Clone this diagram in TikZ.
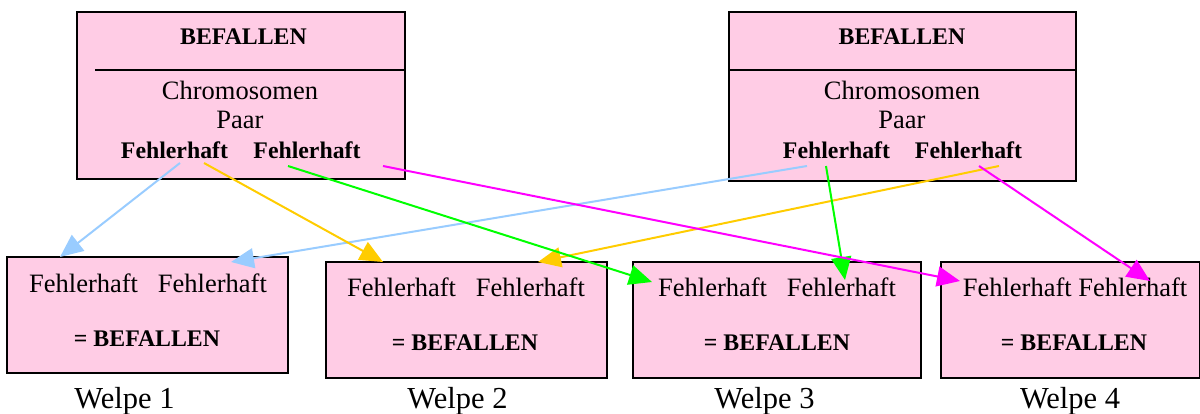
\documentclass[tikz,border=0pt]{standalone}
\usepackage{fontspec}
\setmainfont{Liberation Serif}
\usetikzlibrary{arrows.meta}
\definecolor{pinkfill}{RGB}{255,204,229}
\definecolor{skyblue}{RGB}{153,204,255}
\definecolor{gold}{RGB}{255,204,0}
\definecolor{lime}{RGB}{0,255,0}
\definecolor{magent}{RGB}{255,0,255}
\tikzset{
  parentbox/.style={draw=black,line width=2pt,fill=pinkfill},
  pupbox/.style={draw=black,line width=2pt,fill=pinkfill},
  regtxt/.style={anchor=base,inner sep=0pt,font=\fontsize{26.5}{30}\selectfont},
  boldtxt/.style={anchor=base,inner sep=0pt,font=\fontsize{23.8}{28}\selectfont\bfseries},
  pupname/.style={anchor=base,inner sep=0pt,font=\fontsize{30.5}{34}\selectfont},
  gene/.style={line width=2pt,-{Triangle[length=23pt,width=20pt]}},
}
\begin{document}
\begin{tikzpicture}[x=1pt,y=-1pt]
\useasboundingbox (0,0) rectangle (1200,414);

% parent boxes
\node[parentbox,minimum width=328pt,minimum height=167pt,inner sep=0pt] (pA) at (241,95.5) {};
\draw[line width=2pt] (95,70) -- (pA.east |- 0,70);
\node[boldtxt] (pAtitle) at (243.5,45) {BEFALLEN};
\node[regtxt] (pAchr) at (240,100) {Chromosomen};
\node[regtxt] (pApaar) at (240,129) {Paar};
\node[boldtxt] (pAw1) at (174.5,159) {Fehlerhaft};
\node[boldtxt] (pAw2) at (307,159) {Fehlerhaft};

\node[parentbox,minimum width=347pt,minimum height=169pt,inner sep=0pt] (pB) at (902.5,96.5) {};
\draw[line width=2pt] (pB.west |- 0,70) -- (pB.east |- 0,70);
\node[boldtxt] (pBtitle) at (902,45) {BEFALLEN};
\node[regtxt] (pBchr) at (902,100) {Chromosomen};
\node[regtxt] (pBpaar) at (902,129) {Paar};
\node[boldtxt] (pBw1) at (836.5,158.5) {Fehlerhaft};
\node[boldtxt] (pBw2) at (968.5,158.5) {Fehlerhaft};

% puppy boxes
\node[pupbox,minimum width=281pt,minimum height=116pt,inner sep=0pt] (w1) at (147.5,315) {};
\node[pupbox,minimum width=281pt,minimum height=116pt,inner sep=0pt] (w2) at (466.5,320) {};
\node[pupbox,minimum width=288pt,minimum height=116pt,inner sep=0pt] (w3) at (777,320) {};
\node[pupbox,minimum width=259pt,minimum height=116pt,inner sep=0pt] (w4) at (1070.5,320) {};

\node[regtxt] (w1a) at (148,293) {Fehlerhaft~~~Fehlerhaft};
\node[boldtxt] (w1b) at (147,346) {= BEFALLEN};
\node[regtxt] (w2a) at (466,297) {Fehlerhaft~~~Fehlerhaft};
\node[boldtxt] (w2b) at (465,350) {= BEFALLEN};
\node[regtxt] (w3a) at (777,297) {Fehlerhaft~~~Fehlerhaft};
\node[boldtxt] (w3b) at (777,350) {= BEFALLEN};
\node[regtxt] (w4a) at (1075,297) {Fehlerhaft Fehlerhaft};
\node[boldtxt] (w4b) at (1074,350) {= BEFALLEN};

\node[pupname] (n1) at (124.5,408) {Welpe 1};
\node[pupname] (n2) at (457.5,408) {Welpe 2};
\node[pupname] (n3) at (764.5,408) {Welpe 3};
\node[pupname] (n4) at (1070,408) {Welpe 4};

% where the allele arrows leave and arrive
\coordinate (aB) at (180,163);
\coordinate (aO) at (204,163);
\coordinate (aG) at (288,166);
\coordinate (aM) at (383,166);
\coordinate (bB) at (807,166);
\coordinate (bG) at (826,166);
\coordinate (bM) at (979,166);
\coordinate (bO) at (999,166);
\coordinate (t1a) at (60,257);
\coordinate (t1b) at (231,262);
\coordinate (t2a) at (383,262);
\coordinate (t2b) at (538,262);
\coordinate (t3a) at (652,282);
\coordinate (t3b) at (845,280);
\coordinate (t4a) at (960,281);
\coordinate (t4b) at (1150,281);

\draw[gene,skyblue] (aB) -- (t1a);
\draw[gene,skyblue] (bB) -- (t1b);
\draw[gene,gold] (aO) -- (t2a);
\draw[gene,gold] (bO) -- (t2b);
\draw[gene,lime] (aG) -- (t3a);
\draw[gene,lime] (bG) -- (t3b);
\draw[gene,magent] (aM) -- (t4a);
\draw[gene,magent] (bM) -- (t4b);
\end{tikzpicture}
\end{document}
